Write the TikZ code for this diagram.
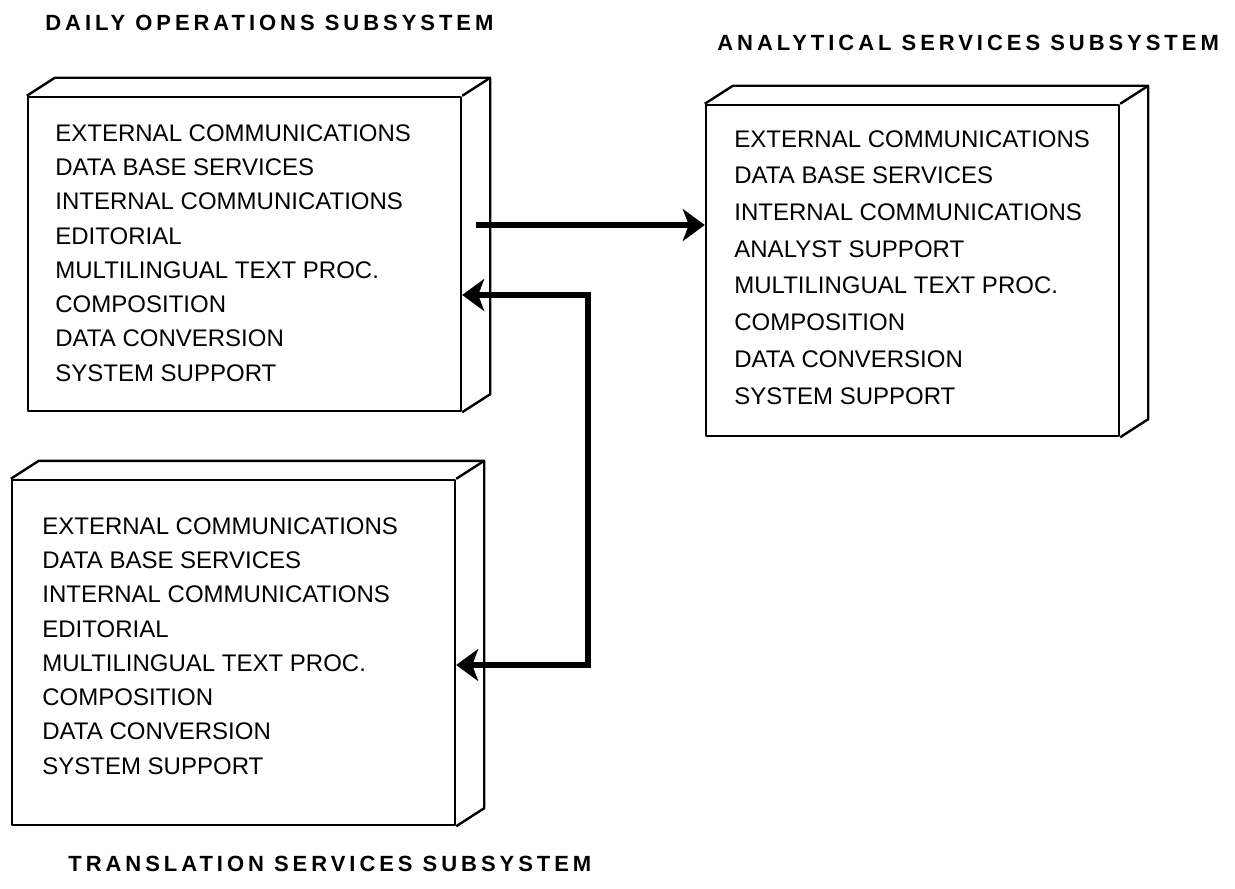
\documentclass[tikz,border=0pt]{standalone}
\usepackage{fontspec}
\setmainfont{Liberation Sans}
\newfontfamily\headfont{Liberation Sans}[LetterSpace=18]
\usetikzlibrary{arrows.meta}

\begin{document}
\begin{tikzpicture}[x=0.5pt, y=-0.5pt,
		>={Stealth[length=11pt, width=16pt, inset=3pt]},
		slab/.style={draw, rectangle, line width=1.2pt, inner sep=0pt, line join=round},
		face/.style={line width=1.2pt, line join=round},
		items/.style={anchor=north west, inner sep=0pt, align=left, font=\fontsize{12}{17.15}\selectfont},
		heading/.style={anchor=north west, inner sep=0pt, font=\headfont\bfseries\fontsize{11}{13}\selectfont},
		link/.style={line width=2.6pt}]
		\def\dpx{28}
		\def\dpy{-18}
		\useasboundingbox (0,0) rectangle (1235,888);
		% front faces
		\node[slab, minimum width=216.5pt, minimum height=157pt] (dops) at (244.5,254) {};
		\node[slab, minimum width=206.5pt, minimum height=165.5pt] (ana) at (912.5,270.5) {};
		\node[slab, minimum width=221.5pt, minimum height=172.5pt] (trans) at (233.5,652.5) {};
		% top and side faces
		\foreach \b in {dops, ana, trans} {
			\draw[face] (\b.north west) -- ++(\dpx,\dpy) -- ([shift={(\dpx,\dpy)}]\b.north east) -- ([shift={(\dpx,\dpy)}]\b.south east) -- (\b.south east);
			\draw[face] (\b.north east) -- ++(\dpx,\dpy);
		}
		\node[heading] (dopsTitle) at (45,15) {DAILY OPERATIONS SUBSYSTEM};
		\node[heading] (anaTitle) at (717,35) {ANALYTICAL SERVICES SUBSYSTEM};
		\node[heading] (transTitle) at (68,856) {TRANSLATION SERVICES SUBSYSTEM};
		\node[items] (dopsList) at (55,124) {EXTERNAL COMMUNICATIONS\\DATA BASE SERVICES\\INTERNAL COMMUNICATIONS\\EDITORIAL\\MULTILINGUAL TEXT PROC.\\COMPOSITION\\DATA CONVERSION\\SYSTEM SUPPORT};
		\node[items, font=\fontsize{12}{18.35}\selectfont] (anaList) at (734,130) {EXTERNAL COMMUNICATIONS\\DATA BASE SERVICES\\INTERNAL COMMUNICATIONS\\ANALYST SUPPORT\\MULTILINGUAL TEXT PROC.\\COMPOSITION\\DATA CONVERSION\\SYSTEM SUPPORT};
		\node[items] (transList) at (42,517) {EXTERNAL COMMUNICATIONS\\DATA BASE SERVICES\\INTERNAL COMMUNICATIONS\\EDITORIAL\\MULTILINGUAL TEXT PROC.\\COMPOSITION\\DATA CONVERSION\\SYSTEM SUPPORT};
		% connectors
		\coordinate (feedOut) at (476,225);
		\coordinate (loopTop) at (588,295);
		\coordinate (loopBot) at (588,665);
		\draw[link, ->] (feedOut) -- (feedOut -| ana.west);
		\draw[link, <->] (loopTop -| dops.east) -- (loopTop) -- (loopBot) -- (loopBot -| trans.east);
	\end{tikzpicture}
\end{document}
